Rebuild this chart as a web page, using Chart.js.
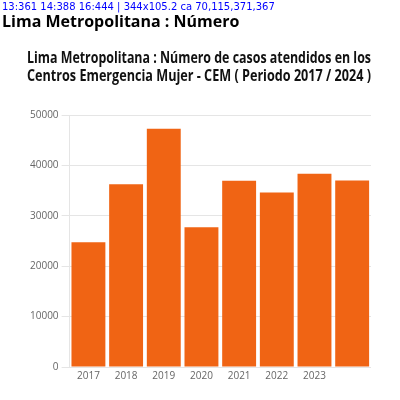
<!DOCTYPE html>
<html>
<head>
<meta charset="utf-8">
<script src="https://cdn.jsdelivr.net/npm/chart.js@4"></script>
<style>
html,body{margin:0;padding:0;background:#fff;overflow:hidden;}
canvas{display:block;}
</style>
</head>
<body>
<canvas id="c" width="400" height="400" style="width:400px;height:400px;"></canvas>
<script>
const categories = ["2017","2018","2019","2020","2021","2022","2023",""];
const casos = [24785, 36311, 47333, 27732, 36969, 34639, 38370, 37012];
const yTicks = [0, 10000, 20000, 30000, 40000, 50000];
const FONT = '"Open Sans"';
const L1 = 'Lima Metropolitana : Número de casos atendidos en los';

const debug = {
  id: 'debug',
  afterDraw(chart) {
    const ctx = chart.ctx;
    ctx.save();
    ctx.fillStyle = '#00f';
    ctx.textAlign = 'left';
    ctx.textBaseline = 'top';
    const sizes = [13, 14, 16];
    const out = [];
    sizes.forEach(s => { ctx.font = 'bold ' + s + 'px "Open Sans"'; out.push(s + ':' + Math.round(ctx.measureText(L1).width)); });
    ctx.font = '10px "DejaVu Sans"';
    ctx.fillText(out.join(' ') + ' | ' + chart.titleBlock.width + 'x' + chart.titleBlock.height + ' ca ' + Math.round(chart.chartArea.left) + ',' + Math.round(chart.chartArea.top) + ',' + Math.round(chart.chartArea.right) + ',' + Math.round(chart.chartArea.bottom), 2, 2);
    ctx.font = 'bold 16px "Open Sans"';
    ctx.fillStyle = '#000';
    ctx.fillText('Lima Metropolitana : Número', 2, 14);
    ctx.restore();
  }
};

new Chart(document.getElementById('c'), {
  type: 'bar',
  data: { labels: categories, datasets: [{ data: casos, backgroundColor: '#F06414', barPercentage: 0.9, categoryPercentage: 1.0 }] },
  options: {
    responsive: false, animation: false, devicePixelRatio: 1,
    layout: { padding: { left: 27, right: 29, top: 10, bottom: 15 } },
    plugins: {
      legend: { display: false }, tooltip: { enabled: false },
      title: { display: true, text: [L1, 'Centros Emergencia Mujer - CEM ( Periodo 2017 / 2024 )'], color: '#111',
        font: { family: FONT, size: 16, weight: 'bold', lineHeight: 1.1 }, padding: { top: 40, bottom: 30 } }
    },
    scales: {
      x: { grid: { display: false, drawTicks: false }, border: { display: false }, ticks: { font: { family: FONT, size: 10 } } },
      y: { min: 0, max: 50000, afterBuildTicks(axis) { axis.ticks = yTicks.map(v => ({ value: v })); },
        ticks: { font: { family: FONT, size: 10 }, callback: v => String(v) } }
    }
  },
  plugins: [debug]
});
</script>
</body>
</html>
